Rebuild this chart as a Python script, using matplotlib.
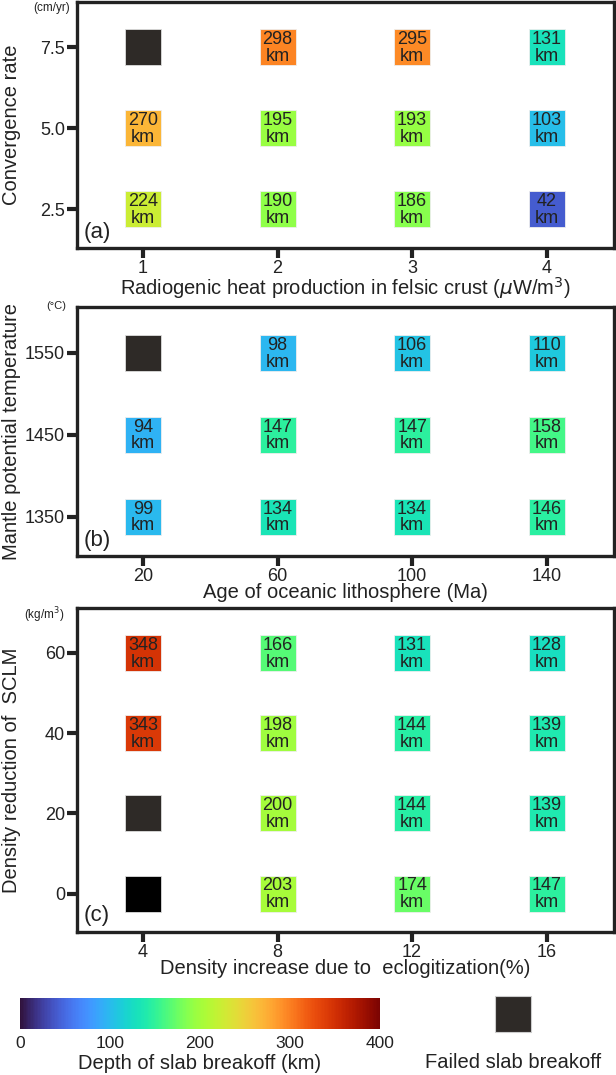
import numpy as np
import matplotlib
matplotlib.use('Agg')
import matplotlib.pyplot as plt
from matplotlib.colors import Normalize
from matplotlib.cm import ScalarMappable

plt.rcParams['font.family'] = ['Liberation Sans', 'DejaVu Sans']

# panel (a)
heat_prod = ['1', '2', '3', '4']
conv_rate = ['2.5', '5.0', '7.5']
depth_a = [[224, 190, 186, 42],
           [270, 195, 193, 103],
           [np.nan, 298, 295, 131]]

# panel (b)
ocean_age = ['20', '60', '100', '140']
mantle_temp = ['1350', '1450', '1550']
depth_b = [[99, 134, 134, 146],
           [94, 147, 147, 158],
           [np.nan, 98, 106, 110]]

# panel (c)
eclogite = ['4', '8', '12', '16']
sclm_red = ['0', '20', '40', '60']
depth_c = [[np.nan, 203, 174, 147],
           [np.nan, 200, 144, 139],
           [343, 198, 144, 139],
           [348, 166, 131, 128]]

W, H = 616, 1075
cmap = plt.get_cmap('turbo')
norm = Normalize(0, 400)
FAIL = '#2e2a27'
INK = '#222222'


def px_axes(fig, left, top, right, bottom):
    return fig.add_axes([left / W, 1 - bottom / H, (right - left) / W, (bottom - top) / H])


def draw_panel(ax, xcats, ycats, vals, xlabel, ylabel, tag, fail_colors=None):
    vals = np.array(vals, dtype=float)
    ny, nx = vals.shape
    for j in range(ny):
        for i in range(nx):
            v = vals[j, i]
            if np.isnan(v):
                c = FAIL if fail_colors is None else fail_colors.get((j, i), FAIL)
                ax.scatter(i, j, s=660, marker='s', color=c, edgecolors='#dddddd', linewidths=0.6, zorder=2)
            else:
                ax.scatter(i, j, s=660, marker='s', color=cmap(norm(v)), edgecolors='#eeeeee', linewidths=0.6, zorder=2)
                ax.text(i, j - 0.01, f"{int(v)}\nkm", ha='center', va='center', fontsize=13,
                        color=INK, linespacing=0.98, zorder=3)
    ax.set_xlim(-0.49, nx - 0.5)
    ax.set_ylim(-0.48, ny - 0.44)
    ax.set_xticks(range(nx))
    ax.set_xticklabels(xcats)
    ax.set_yticks(range(ny))
    ax.set_yticklabels(ycats)
    ax.tick_params(axis='both', length=7, width=3, color=INK, labelsize=13, pad=1.5, labelcolor=INK)
    for s in ax.spines.values():
        s.set_linewidth(2.4)
        s.set_color(INK)
    ax.set_xlabel(xlabel, fontsize=14.5, labelpad=-1, color=INK)
    ax.set_ylabel(ylabel, fontsize=14.5, color=INK, va='center')
    ax.yaxis.set_label_coords(-0.122, 0.5)
    ax.text(0.012, 0.02, tag, transform=ax.transAxes, fontsize=16, color=INK, ha='left', va='bottom')
    return ax


fig = plt.figure(figsize=(W / 100, H / 100), dpi=100)

ax_a = px_axes(fig, 77, 2, 614, 248)
draw_panel(ax_a, heat_prod, conv_rate, depth_a,
           r'Radiogenic heat production in felsic crust ($\mu$W/m$^3$)', 'Convergence rate', '(a)')
fig.text(52 / W, 1 - 8 / H, '(cm/yr)', fontsize=8.5, ha='center', va='center', color=INK)

ax_b = px_axes(fig, 77, 307, 614, 556)
draw_panel(ax_b, ocean_age, mantle_temp, depth_b,
           'Age of oceanic lithosphere (Ma)', 'Mantle potential temperature', '(b)')
fig.text(56 / W, 1 - 306 / H, '(°C)', fontsize=8, ha='center', va='center', color=INK)

ax_c = px_axes(fig, 77, 608, 614, 932)
draw_panel(ax_c, eclogite, sclm_red, depth_c,
           'Density increase due to  eclogitization(%)', 'Density reduction of  SCLM', '(c)',
           fail_colors={(0, 0): '#000000'})
fig.text(44 / W, 1 - 615 / H, '(kg/m$^3$)', fontsize=8.5, ha='center', va='center', color=INK)

# colorbar
cax = px_axes(fig, 20, 998, 380, 1029)
cb = fig.colorbar(ScalarMappable(norm=norm, cmap=cmap), cax=cax, orientation='horizontal',
                  ticks=[0, 100, 200, 300, 400])
cb.outline.set_visible(False)
cax.tick_params(length=0, labelsize=12.5, pad=5, labelcolor=INK)
cb.set_label('Depth of slab breakoff (km)', fontsize=14.5, labelpad=2, color=INK)

# failed legend
lax = px_axes(fig, 480, 990, 540, 1040)
lax.set_xlim(0, 1)
lax.set_ylim(0, 1)
lax.scatter([0.55], [0.53], s=700, marker='s', color=FAIL, edgecolors='#cccccc', linewidths=0.8)
lax.axis('off')
fig.text(513 / W, 1 - 1063 / H, 'Failed slab breakoff', fontsize=14.5, ha='center', va='center', color=INK)

fig.savefig('out.png', dpi=100)
